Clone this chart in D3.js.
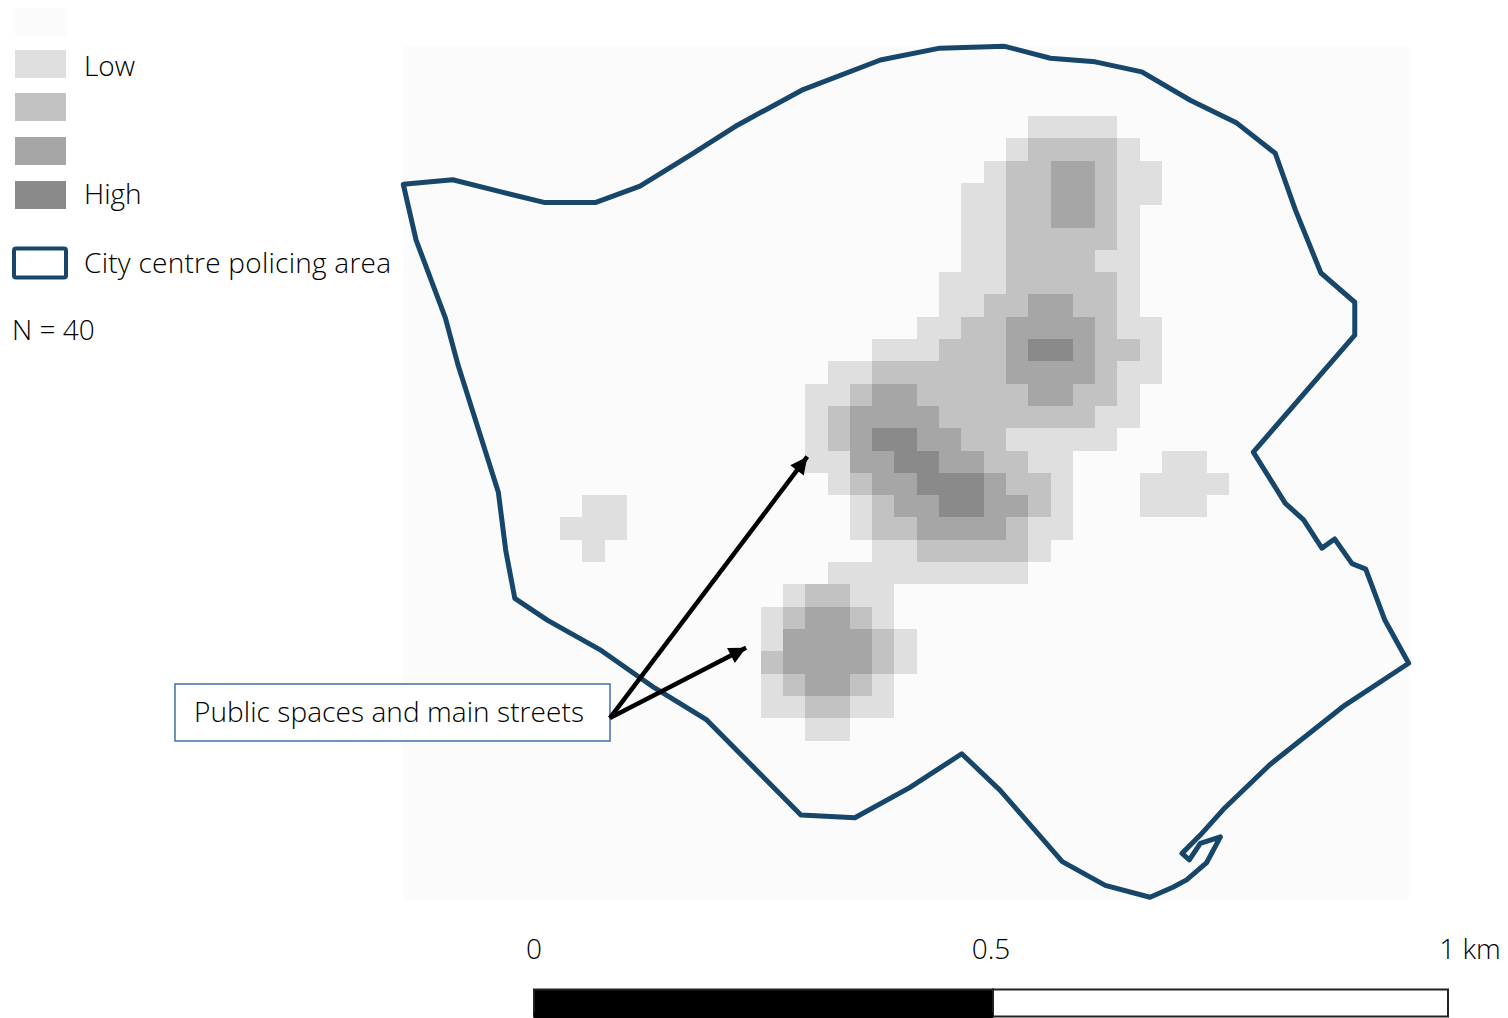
<!DOCTYPE html>
<html>
<head>
<meta charset="utf-8">
<script src="https://d3js.org/d3.v7.min.js"></script>
<style>
  html, body { margin: 0; padding: 0; background: #fff; overflow: hidden; }
  text { font-family: "Open Sans", sans-serif; font-weight: 300; fill: #000; }
</style>
</head>
<body>
<div id="chart"></div>
<script>
// hotspot classes, 0 = background .. 4 = high
var classColors = ["#fbfbfb", "#dfdfdf", "#c2c2c2", "#a6a6a6", "#8a8a8a"];
var legendLabels = ["", "Low", "", "", "High"];

// grid runs: row number, first column, class of each following cell
var runRows = [0, 1, 2, 3, 4, 5, 6, 7, 8, 9, 10, 11, 12, 13, 14, 15, 16, 17, 18, 19, 20, 21, 22, 23, 24, 25, 26, 27,
               15, 16, 17, 17, 18, 19];
var runStarts = [21, 20, 19, 18, 18, 18, 18, 17, 17, 16, 14, 12, 11, 11, 11, 11, 12, 13, 13, 14, 12, 10, 9, 9, 9, 9, 9, 11,
                 27, 26, 26, 1, 0, 1];
var runValues = [
  "1111", "122221", "12233211", "112233211", "11223321", "11222221", "11222211",
  "111222221", "112233221", "11223333211", "1112223443221", "112222223333211",
  "112332222233221", "123333222222211", "12344332211111", "113344332211",
  "12334443221", "1233443321", "1223333211", "11222221", "111111111",
  "12211", "123321", "1333321", "2333321", "123321", "112211", "11",
  "11", "1111", "111", "11", "111", "1"
];

// policing area boundary, metres east and north of the scale bar origin
var boundaryEast = [-143, -89, -37, 12, 67, 116, 171, 223, 293, 379, 444, 515, 565, 614, 665, 718, 769, 811, 833, 861, 898, 898,
  787, 822, 842, 862, 876, 895, 910, 931, 957, 887, 805, 756, 729, 709, 717, 729, 751, 736, 714, 699, 674, 625, 578, 510, 468,
  411, 351, 292, 189, 132, 72, 15, -21, -31, -39, -83, -97, -129];
var boundaryNorth = [783, 788, 775, 763, 763, 781, 815, 848, 886, 919, 932, 934, 921, 917, 906, 875, 850, 817, 755, 686, 654, 618,
  490, 434, 416, 385, 395, 368, 362, 306, 259, 213, 148, 101, 71, 51, 44, 62, 69, 41, 22, 14, 3, 16, 42, 120, 160,
  123, 90, 93, 197, 232, 274, 306, 330, 383, 446, 585, 637, 722];

// map extent and grid, metres
var rasterEast = [-143, 957];
var rasterNorth = [0, 934];
var gridOriginEast = 28.4, gridOriginNorth = 857.7, cellSize = 24.4;

// arrows: from the callout to the hotspots
var arrowTail = [83, 199];
var arrowHeadEast = [299, 232];
var arrowHeadNorth = [485, 276];

var scaleStops = [0, 500, 1000];
var scaleLabels = ["0", "0.5", "1 km"];

var width = 1508, height = 1018;

var x = d3.scaleLinear().domain([0, 1000]).range([534, 1448]);
var y = d3.scaleLinear().domain([0, 1000]).range([900, -14]);

var svg = d3.select("#chart").append("svg")
  .attr("width", width)
  .attr("height", height)
  .style("display", "block");

var defs = svg.append("defs");
defs.append("filter")
  .attr("id", "soft")
  .append("feGaussianBlur")
  .attr("stdDeviation", 0.6);

// raster background
svg.append("rect")
  .attr("x", x(rasterEast[0]))
  .attr("y", y(rasterNorth[1]))
  .attr("width", x(rasterEast[1]) - x(rasterEast[0]))
  .attr("height", y(rasterNorth[0]) - y(rasterNorth[1]))
  .attr("fill", classColors[0]);

// expand the runs into cells
var cells = [];
runRows.forEach(function(r, i) {
  runValues[i].split("").forEach(function(v, j) {
    cells.push({ row: r, col: runStarts[i] + j, value: +v });
  });
});

svg.append("g")
  .attr("filter", "url(#soft)")
  .selectAll("rect")
  .data(cells)
  .enter()
  .append("rect")
  .attr("x", function(d) { return x(gridOriginEast + d.col * cellSize); })
  .attr("y", function(d) { return y(gridOriginNorth - d.row * cellSize); })
  .attr("width", x(cellSize) - x(0))
  .attr("height", y(0) - y(cellSize))
  .attr("shape-rendering", "crispEdges")
  .attr("fill", function(d) { return classColors[d.value]; });

// boundary
var boundaryLine = d3.line()
  .x(function(d) { return x(d[0]); })
  .y(function(d) { return y(d[1]); })
  .curve(d3.curveLinearClosed);

svg.append("path")
  .attr("d", boundaryLine(d3.zip(boundaryEast, boundaryNorth)))
  .attr("fill", "none")
  .attr("stroke", "#17466b")
  .attr("stroke-width", 5)
  .attr("stroke-linejoin", "round");

// legend
var legendTop = [8, 50, 93, 137, 181];
var legendBaseline = [0, 76, 0, 0, 204];
var legend = svg.append("g");
legend.selectAll("rect")
  .data(classColors)
  .enter()
  .append("rect")
  .attr("x", 15)
  .attr("y", function(d, i) { return legendTop[i]; })
  .attr("width", 51)
  .attr("height", 28)
  .attr("fill", function(d) { return d; });

legend.selectAll("text")
  .data(legendLabels)
  .enter()
  .append("text")
  .attr("x", 84)
  .attr("y", function(d, i) { return legendBaseline[i]; })
  .attr("font-size", 28)
  .text(function(d) { return d; });

legend.append("rect")
  .attr("x", 14)
  .attr("y", 248.5)
  .attr("width", 52)
  .attr("height", 29)
  .attr("rx", 2)
  .attr("fill", "#fff")
  .attr("stroke", "#17466b")
  .attr("stroke-width", 4);

legend.append("text")
  .attr("x", 84)
  .attr("y", 273)
  .attr("font-size", 28)
  .attr("textLength", 307)
  .text("City centre policing area");

legend.append("text")
  .attr("x", 12)
  .attr("y", 340)
  .attr("font-size", 28)
  .text("N = 40");

// callout
svg.append("rect")
  .attr("x", 175)
  .attr("y", 684)
  .attr("width", 435)
  .attr("height", 57)
  .attr("fill", "#fff")
  .attr("stroke", "#3f70a8")
  .attr("stroke-width", 1.5);

svg.append("text")
  .attr("x", 194)
  .attr("y", 722)
  .attr("font-size", 28)
  .attr("textLength", 390)
  .text("Public spaces and main streets");

defs.append("marker")
  .attr("id", "arrowhead")
  .attr("markerUnits", "userSpaceOnUse")
  .attr("viewBox", "0 0 10 10")
  .attr("refX", 10)
  .attr("refY", 5)
  .attr("markerWidth", 20)
  .attr("markerHeight", 17)
  .attr("orient", "auto")
  .append("path")
  .attr("d", "M0,0L10,5L0,10z")
  .attr("fill", "#000");

svg.append("g").selectAll("line")
  .data(arrowHeadEast)
  .enter()
  .append("line")
  .attr("x1", x(arrowTail[0]))
  .attr("y1", y(arrowTail[1]))
  .attr("x2", function(d) { return x(d); })
  .attr("y2", function(d, i) { return y(arrowHeadNorth[i]); })
  .attr("stroke", "#000")
  .attr("stroke-width", 4.5)
  .attr("marker-end", "url(#arrowhead)");

// scale bar
var barScale = d3.scaleLinear().domain(scaleStops).range([534, 993, 1448]);

svg.append("g").selectAll("rect")
  .data(d3.pairs(scaleStops))
  .enter()
  .append("rect")
  .attr("x", function(d) { return barScale(d[0]); })
  .attr("y", 989.5)
  .attr("width", function(d) { return barScale(d[1]) - barScale(d[0]); })
  .attr("height", 27)
  .attr("fill", function(d, i) { return i == 0 ? "#000" : "#fff"; })
  .attr("stroke", "#222")
  .attr("stroke-width", 2);

svg.append("rect")
  .attr("x", barScale(0))
  .attr("y", 1012)
  .attr("width", barScale(500) - barScale(0))
  .attr("height", 6)
  .attr("fill", "#000");

svg.append("g").selectAll("text")
  .data(scaleStops)
  .enter()
  .append("text")
  .attr("x", function(d) { return barScale(d) + (d == 1000 ? 22 : d == 500 ? -2 : 0); })
  .attr("y", 959)
  .attr("text-anchor", "middle")
  .attr("font-size", 28)
  .text(function(d, i) { return scaleLabels[i]; });
</script>
</body>
</html>
